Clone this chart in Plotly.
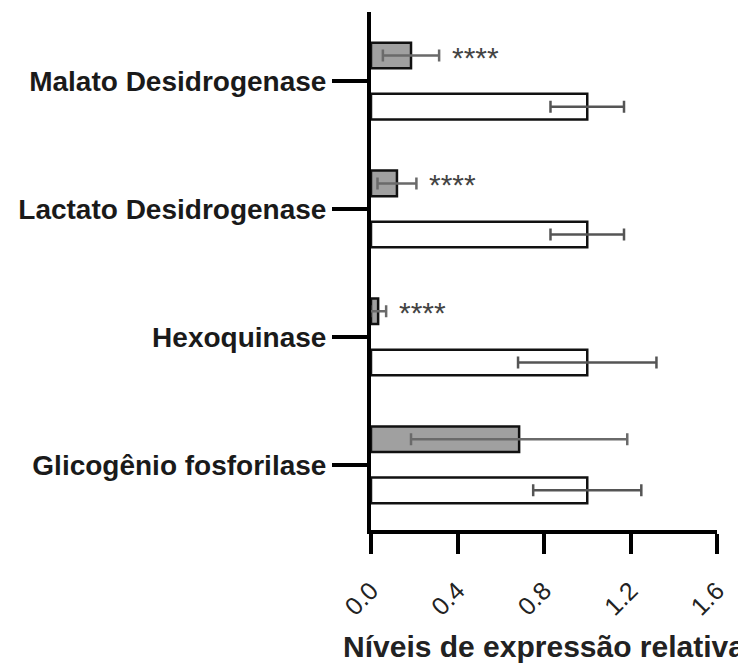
import plotly.graph_objects as go

# Data (bottom to top)
categories = ["Glicogênio fosforilase", "Hexoquinase", "Lactato Desidrogenase", "Malato Desidrogenase"]
control_vals = [1.0, 1.0, 1.0, 1.0]
control_err = [0.25, 0.32, 0.17, 0.17]
treated_vals = [0.685, 0.033, 0.12, 0.185]
treated_err = [0.50, 0.037, 0.09, 0.13]
sig_labels = ["", "****", "****", "****"]
x_ticks = [0.0, 0.4, 0.8, 1.2, 1.6]
x_tick_text = ["0.0", "0.4", "0.8", "1.2", "1.6"]

FONT = "Liberation Sans, Arial, sans-serif"

fig = go.Figure()
fig.add_trace(go.Bar(
    y=categories, x=control_vals, orientation="h",
    marker=dict(color="white", line=dict(color="#111111", width=2.5)),
    error_x=dict(type="data", array=control_err, visible=True,
                 color="#555555", thickness=2.5, width=6),
    showlegend=False,
))
fig.add_trace(go.Bar(
    y=categories, x=treated_vals, orientation="h",
    marker=dict(color="#a0a0a0", line=dict(color="#111111", width=2.5)),
    error_x=dict(type="data", array=treated_err, visible=True,
                 color="#6a6a6a", thickness=2.5, width=6),
    showlegend=False,
))

for cat, v, e, s in zip(categories, treated_vals, treated_err, sig_labels):
    if s:
        fig.add_annotation(
            x=v + e, y=cat, text=s, showarrow=False,
            xanchor="left", yanchor="middle", xshift=11, yshift=24,
            font=dict(family=FONT, size=30, color="#444444"),
        )

# the page body has an 8px margin, so the figure is drawn from (8, 8)
fig.update_layout(
    width=738, height=655,
    margin=dict(l=363, r=29, t=4, b=133),
    paper_bgcolor="white", plot_bgcolor="white",
    barmode="group", bargap=0.2, bargroupgap=0.5,
    font=dict(family=FONT, color="#1a1a1a"),
    xaxis=dict(
        range=[0, 1.6], tickvals=x_ticks, ticktext=x_tick_text,
        automargin=False,
        showgrid=False, zeroline=False,
        showline=True, linecolor="black", linewidth=4,
        ticks="outside", ticklen=20, tickwidth=4, tickcolor="black",
        tickangle=-45, tickfont=dict(size=25, color="#222222"),
        ticklabelstandoff=12,
        title=dict(text="<b>Níveis de expressão relativa</b>",
                   font=dict(size=30, color="#222222"), standoff=30),
    ),
    yaxis=dict(
        categoryorder="array", categoryarray=categories,
        range=[-0.51, 3.54], automargin=False,
        showgrid=False, zeroline=False,
        showline=True, linecolor="black", linewidth=4,
        ticks="outside", ticklen=35, tickwidth=3.5, tickcolor="black",
        tickfont=dict(size=28, color="#1a1a1a", weight="bold"),
        ticklabelstandoff=0,
    ),
)

fig.write_html("out.html")
